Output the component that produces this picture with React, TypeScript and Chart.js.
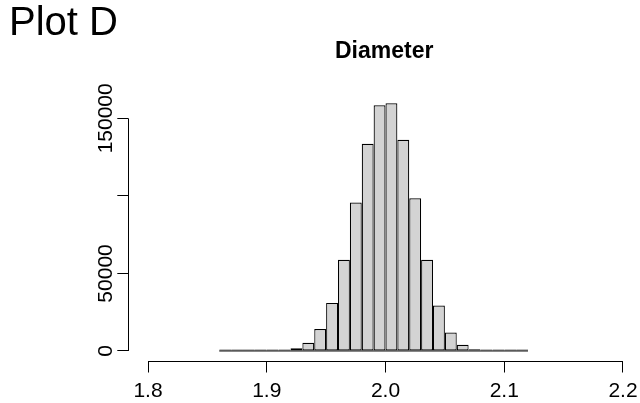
import React, { useEffect, useRef } from 'react';
import { Chart, registerables } from 'chart.js';

Chart.register(...registerables);

const FONT = "'Liberation Sans', Arial, Helvetica, sans-serif";

// Histogram bin edges (Diameter) and counts per bin
const binEdges = [
  1.86, 1.87, 1.88, 1.89, 1.9, 1.91, 1.92, 1.93, 1.94, 1.95, 1.96, 1.97, 1.98,
  1.99, 2.0, 2.01, 2.02, 2.03, 2.04, 2.05, 2.06, 2.07, 2.08, 2.09, 2.1, 2.11, 2.12,
];
const counts = [
  3, 8, 40, 120, 250, 600, 1700, 5300, 14200, 31000, 58800, 95700, 133600,
  158400, 159700, 136200, 98500, 58800, 29300, 11900, 4000, 1100, 300, 90, 25, 5,
];

const xTicks = [1.8, 1.9, 2.0, 2.1, 2.2];
const xTickLabels = ['1.8', '1.9', '2.0', '2.1', '2.2'];
const yTicks = [0, 50000, 100000, 150000];
const yTickLabels = ['0', '50000', '', '150000'];

const plotLabel = 'Plot D';
const mainTitle = 'Diameter';

const alignPx = (p: number) => Math.round(p - 0.5) + 0.5;

const rAxes = {
  id: 'rAxes',
  afterDatasetsDraw(chart: any) {
    const { ctx, scales } = chart;
    const x = scales.x;
    const y = scales.y;
    ctx.save();
    ctx.strokeStyle = '#000';
    ctx.lineWidth = 1;
    ctx.beginPath();
    const yb = alignPx(x.top);
    ctx.moveTo(x.getPixelForValue(xTicks[0]), yb);
    ctx.lineTo(x.getPixelForValue(xTicks[xTicks.length - 1]), yb);
    const xl = alignPx(y.right);
    ctx.moveTo(xl, y.getPixelForValue(yTicks[0]));
    ctx.lineTo(xl, y.getPixelForValue(yTicks[yTicks.length - 1]));
    ctx.stroke();
    ctx.restore();
  },
};

export default function App() {
  const ref = useRef<HTMLCanvasElement | null>(null);

  useEffect(() => {
    if (!ref.current) return;
    const data = counts.map((c, i) => ({
      x: (binEdges[i] + binEdges[i + 1]) / 2,
      y: c,
    }));
    const baseline = [
      { x: binEdges[0], y: 0 },
      { x: binEdges[binEdges.length - 1], y: 0 },
    ];
    const chart = new Chart(ref.current, {
      type: 'bar',
      data: {
        datasets: [
          {
            type: 'line',
            data: baseline,
            borderColor: '#000000',
            borderWidth: 1,
            pointRadius: 0,
            fill: false,
            order: 0,
          } as any,
          {
            data,
            backgroundColor: '#D3D3D3',
            borderColor: '#000000',
            borderWidth: 1.2,
            borderSkipped: false,
            barPercentage: 1,
            categoryPercentage: 1,
            minBarLength: 1.5,
            inflateAmount: 0,
            order: 1,
          } as any,
        ],
      },
      plugins: [rAxes],
      options: {
        responsive: false,
        animation: false,
        events: [],
        layout: { padding: { left: 9, right: 0, top: 0, bottom: 0 } },
        plugins: {
          legend: { display: false },
          tooltip: { enabled: false },
          title: {
            display: true,
            text: plotLabel,
            align: 'start',
            color: '#000',
            font: { family: FONT, size: 40, weight: 'normal', lineHeight: 0.8 },
            padding: { top: 8.4, bottom: 0 },
          },
          subtitle: {
            display: true,
            text: mainTitle,
            align: 'center',
            fullSize: false,
            color: '#000',
            font: { family: FONT, size: 23, weight: 'bold', lineHeight: 1 },
            padding: { top: 0.1, bottom: 30 },
          } as any,
        },
        scales: {
          x: {
            type: 'linear',
            min: 1.78341,
            max: 2.21432,
            offset: false,
            grid: {
              display: true,
              offset: false,
              drawOnChartArea: false,
              drawTicks: true,
              tickLength: 11,
              color: '#000',
              lineWidth: 1,
            },
            border: { display: false },
            afterBuildTicks: (s: any) => {
              s.ticks = xTicks.map((v) => ({ value: v }));
            },
            afterFit: (s: any) => {
              s.height = 41.5;
              s.paddingLeft = 0;
              s.paddingRight = 0;
            },
            ticks: {
              color: '#000',
              font: { family: FONT, size: 21 },
              padding: 5.9,
              maxRotation: 0,
              minRotation: 0,
              autoSkip: false,
              callback: (_v: any, i: number) => xTickLabels[i],
            },
          } as any,
          y: {
            type: 'linear',
            min: -6780,
            max: 166000,
            grid: {
              display: true,
              drawOnChartArea: false,
              drawTicks: true,
              tickLength: 11,
              color: '#000',
              lineWidth: 1,
            },
            border: { display: false },
            afterBuildTicks: (s: any) => {
              s.ticks = yTicks.map((v) => ({ value: v }));
            },
            afterFit: (s: any) => {
              s.width = 119.3;
              s.paddingTop = 0;
              s.paddingBottom = 0;
            },
            ticks: {
              color: '#000',
              font: { family: FONT, size: 21 },
              crossAlign: 'center',
              padding: -23.7,
              minRotation: 90,
              maxRotation: 90,
              autoSkip: false,
              callback: (_v: any, i: number) => yTickLabels[i],
            },
          } as any,
        },
      },
    });
    return () => chart.destroy();
  }, []);

  return (
    <div style={{ position: 'fixed', left: 0, top: 0, width: 640, height: 403, background: '#fff' }}>
      <canvas ref={ref} width={640} height={403} style={{ display: 'block' }} />
    </div>
  );
}
